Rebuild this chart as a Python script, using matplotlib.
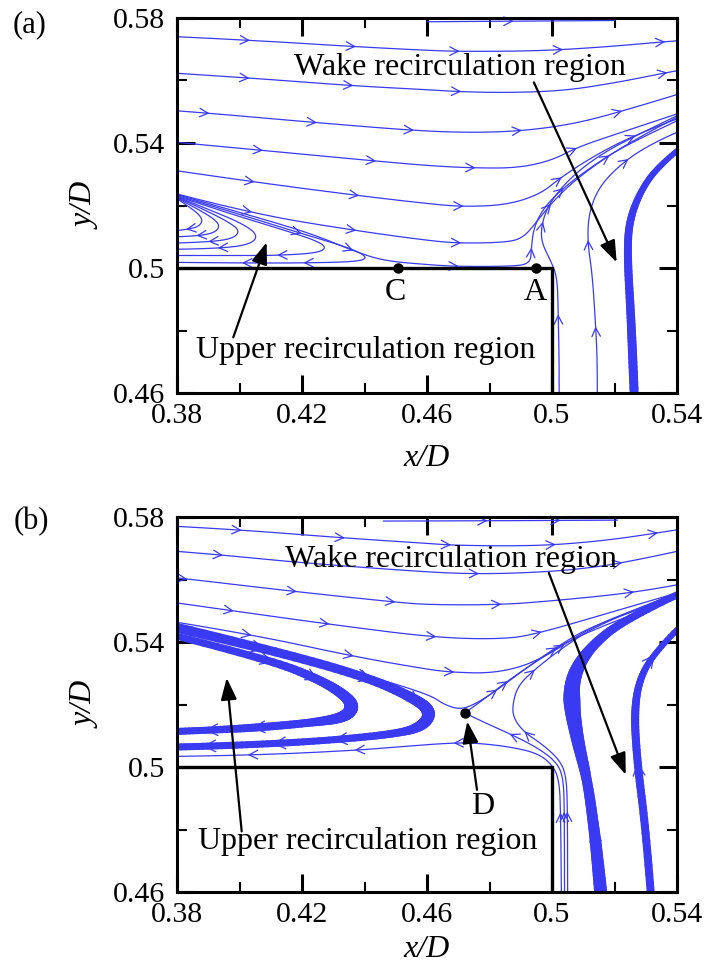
import numpy as np
import matplotlib
matplotlib.use("Agg")
import matplotlib.pyplot as plt
from matplotlib.collections import LineCollection

plt.rcParams["font.family"] = ["Liberation Serif", "DejaVu Serif"]

BLUE = "#3a3af2"

# ---------------- panel (a): streamlines traced as (x/D, y/D) vertices ----------------
# free-stream lines above the body, left to right
a_top1_x = [0.460, 0.490, 0.520]
a_top1_y = [0.5788, 0.5790, 0.5792]
a_top2_x = [0.380, 0.4034, 0.4375, 0.461, 0.4708, 0.491, 0.5038, 0.5188, 0.536, 0.540]
a_top2_y = [0.5740, 0.5729, 0.5708, 0.5696, 0.5693, 0.5694, 0.5699, 0.5709, 0.5724, 0.5727]
a_top3_x = [0.380, 0.4034, 0.4364, 0.461, 0.4708, 0.4857, 0.5038, 0.521, 0.537, 0.540]
a_top3_y = [0.5623, 0.5608, 0.5583, 0.5570, 0.5564, 0.5561, 0.5567, 0.5594, 0.5626, 0.5631]
a_top4_x = [0.380, 0.3895, 0.4236, 0.4567, 0.475, 0.491, 0.507, 0.523, 0.540]
a_top4_y = [0.5503, 0.5496, 0.5466, 0.5439, 0.5433, 0.5439, 0.5461, 0.5503, 0.5555]
a_top5_x = [0.380, 0.4087, 0.4428, 0.461, 0.475, 0.4889, 0.4996, 0.5081, 0.5188, 0.540]
a_top5_y = [0.5402, 0.5375, 0.5343, 0.5327, 0.5320, 0.5320, 0.5343, 0.5386, 0.5423, 0.5493]
a_top6_x = [0.380, 0.4055, 0.4386, 0.461, 0.4718, 0.4857, 0.4964, 0.5028, 0.5145, 0.5273, 0.540]
a_top6_y = [0.5311, 0.5274, 0.5231, 0.5205, 0.5196, 0.5202, 0.5237, 0.5290, 0.5365, 0.5429, 0.5477]
a_top7_x = [0.380, 0.4044, 0.4375, 0.461, 0.4708, 0.4857, 0.491, 0.4953, 0.4996, 0.507, 0.5188, 0.5316, 0.540]
a_top7_y = [0.5237, 0.5173, 0.5119, 0.5087, 0.5079, 0.5082, 0.5098, 0.5151, 0.5205, 0.5279, 0.5365, 0.5439, 0.5482]
# line that reattaches at C, runs along the wall to A and lifts off
a_wall_x = [0.380, 0.4044, 0.4236, 0.4364, 0.446, 0.461, 0.4697, 0.4857, 0.4931, 0.4934, 0.4942, 0.4974, 0.5038, 0.5124, 0.523, 0.540]
a_wall_y = [0.5235, 0.5166, 0.5108, 0.5055, 0.5023, 0.5010, 0.5005, 0.5005, 0.5012, 0.5066, 0.5130, 0.5194, 0.5258, 0.5322, 0.5391, 0.5471]
# lines rising from below, right of the body
a_rise1_x = [0.5023, 0.5023, 0.5020, 0.5017, 0.4996, 0.4964, 0.4969, 0.4996, 0.5060, 0.5150, 0.5260, 0.540]
a_rise1_y = [0.4597, 0.4700, 0.4850, 0.4970, 0.5023, 0.5087, 0.5151, 0.5215, 0.5290, 0.5360, 0.5420, 0.5487]
a_rise2_x = [0.5145, 0.5145, 0.514, 0.5129, 0.5113, 0.5119, 0.5156, 0.524, 0.5337, 0.540]
a_rise2_y = [0.4597, 0.4700, 0.4810, 0.4981, 0.5087, 0.5183, 0.5269, 0.5349, 0.5407, 0.5434]
# packed wake band and its width (px)
a_band_x = [0.5263, 0.5258, 0.5252, 0.5241, 0.5247, 0.5284, 0.5337, 0.540]
a_band_y = [0.4597, 0.4720, 0.4853, 0.5045, 0.5151, 0.5247, 0.5322, 0.5375]
a_band_w = [9, 9, 8.5, 8, 7.5, 6.5, 6, 5.5]
# nested loops of the upper recirculation bubble
a_loop1_x = [0.3800, 0.3840, 0.3872, 0.3882, 0.3868, 0.3830, 0.3800]
a_loop1_y = [0.5222, 0.5195, 0.5170, 0.5150, 0.5132, 0.5123, 0.5120]
a_loop2_x = [0.3800, 0.3860, 0.3915, 0.3938, 0.3920, 0.3860, 0.3800]
a_loop2_y = [0.5224, 0.5192, 0.5160, 0.5135, 0.5112, 0.5102, 0.5100]
a_loop3_x = [0.3800, 0.3880, 0.3960, 0.4002, 0.3980, 0.3900, 0.3800]
a_loop3_y = [0.5226, 0.5190, 0.5150, 0.5120, 0.5094, 0.5083, 0.5080]
a_loop4_x = [0.3800, 0.3900, 0.4010, 0.4060, 0.4035, 0.3930, 0.3800]
a_loop4_y = [0.5228, 0.5188, 0.5142, 0.5105, 0.5075, 0.5062, 0.5060]
a_loop5_x = [0.3800, 0.3950, 0.4130, 0.4240, 0.4280, 0.4250, 0.4120, 0.3950, 0.3800]
a_loop5_y = [0.5230, 0.5180, 0.5125, 0.5090, 0.5066, 0.5048, 0.5040, 0.5040, 0.5040]
a_loop6_x = [0.3800, 0.3980, 0.4200, 0.4350, 0.4412, 0.4380, 0.4200, 0.4000, 0.3800]
a_loop6_y = [0.5232, 0.5178, 0.5110, 0.5065, 0.5035, 0.5020, 0.5016, 0.5016, 0.5018]

# ---------------- panel (b) ----------------
b_top1_x = [0.446, 0.4804, 0.5017, 0.521]
b_top1_y = [0.5787, 0.5788, 0.5789, 0.5790]
b_top2_x = [0.380, 0.4002, 0.4332, 0.461, 0.4676, 0.4857, 0.5017, 0.5188, 0.5337, 0.540]
b_top2_y = [0.5770, 0.5759, 0.5733, 0.5715, 0.5710, 0.5707, 0.5711, 0.5727, 0.5749, 0.5759]
b_top3_x = [0.380, 0.3938, 0.4204, 0.461, 0.4761, 0.491, 0.507, 0.523, 0.540]
b_top3_y = [0.5690, 0.5679, 0.5653, 0.5623, 0.5618, 0.5621, 0.5631, 0.5653, 0.5690]
b_top4_x = [0.380, 0.3831, 0.4172, 0.4503, 0.461, 0.4836, 0.5017, 0.5273, 0.540]
b_top4_y = [0.5605, 0.5602, 0.5562, 0.5527, 0.5519, 0.5519, 0.5533, 0.5559, 0.5583]
b_top5_x = [0.380, 0.397, 0.4301, 0.4633, 0.4857, 0.4964, 0.5145, 0.540]
b_top5_y = [0.5525, 0.5501, 0.5455, 0.5413, 0.5409, 0.5430, 0.5482, 0.5557]
b_top6_x = [0.380, 0.4044, 0.4364, 0.461, 0.4686, 0.4804, 0.491, 0.4996, 0.5038, 0.5166, 0.540]
b_top6_y = [0.5463, 0.5423, 0.5354, 0.5311, 0.5303, 0.5300, 0.5322, 0.5365, 0.5391, 0.5471, 0.5551]
b_top7_x = [0.3801, 0.4098, 0.4418, 0.461, 0.4654, 0.4708, 0.4761, 0.4825, 0.491, 0.5017, 0.5145, 0.540]
b_top7_y = [0.5452, 0.5373, 0.5290, 0.5231, 0.5200, 0.5183, 0.5205, 0.5247, 0.5311, 0.5386, 0.5461, 0.5546]
# separatrix leaving the saddle D
b_out_x = [0.4721, 0.478, 0.486, 0.496, 0.510, 0.540]
b_out_y = [0.5173, 0.5215, 0.5277, 0.5345, 0.5432, 0.5540]
# lines coming up along the rear face
b_back_x = [0.5030, 0.5028, 0.5023, 0.5001, 0.4953, 0.4857, 0.4751, 0.4686, 0.459, 0.4375, 0.4023, 0.3800]
b_back_y = [0.4597, 0.4853, 0.4959, 0.5007, 0.5045, 0.5066, 0.5077, 0.5077, 0.5071, 0.5053, 0.5037, 0.5034]
b_in_x = [0.5040, 0.5040, 0.5036, 0.5012, 0.4953, 0.4868, 0.4782, 0.4721]
b_in_y = [0.4597, 0.4853, 0.4970, 0.5018, 0.5062, 0.5105, 0.5143, 0.5173]
b_turn_x = [0.5050, 0.5050, 0.5046, 0.5025, 0.4970, 0.4910, 0.4878, 0.4873, 0.4889, 0.4943, 0.5039, 0.5166, 0.5400]
b_turn_y = [0.4597, 0.4853, 0.4970, 0.5022, 0.5072, 0.5112, 0.5155, 0.5194, 0.5258, 0.5311, 0.5386, 0.5466, 0.5557]
# packed bands of the upper bubble
b_inner_x = [0.3801, 0.4098, 0.4258, 0.4343, 0.4364, 0.4332, 0.4226, 0.4044, 0.3884, 0.3801]
b_inner_y = [0.5418, 0.5343, 0.5279, 0.5226, 0.5189, 0.5157, 0.5141, 0.5125, 0.5117, 0.5114]
b_inner_w = [7, 8, 9, 11, 14, 11, 8, 8, 7, 7]
b_outer_x = [0.3801, 0.4098, 0.4418, 0.4578, 0.4611, 0.4590, 0.4524, 0.4311, 0.4098, 0.3884, 0.3801]
b_outer_y = [0.5445, 0.5375, 0.5285, 0.5210, 0.5173, 0.5135, 0.5109, 0.5087, 0.5074, 0.5066, 0.5064]
b_outer_w = [10, 9, 9, 11, 13, 11, 8, 7, 7, 7, 7]
# packed bands of the wake
b_wake1_x = [0.5156, 0.5146, 0.5135, 0.5113, 0.5081, 0.5060, 0.5070, 0.5124, 0.5230, 0.5400]
b_wake1_y = [0.4597, 0.4700, 0.4800, 0.4959, 0.5087, 0.5215, 0.5301, 0.5386, 0.5471, 0.5551]
b_wake1_w = [13, 12, 11, 10, 13, 17, 14, 10, 8, 7]
b_wake2_x = [0.5316, 0.5300, 0.5273, 0.5263, 0.5279, 0.5327, 0.5400]
b_wake2_y = [0.4597, 0.4800, 0.5013, 0.5173, 0.5279, 0.5365, 0.5439]
b_wake2_w = [8, 8, 8, 8, 7, 6, 6]

x_major = [0.38, 0.42, 0.46, 0.50, 0.54]
x_major_labels = ["0.38", "0.42", "0.46", "0.5", "0.54"]
x_minor = [0.40, 0.44, 0.48, 0.52]
y_major = [0.46, 0.50, 0.54, 0.58]
y_major_labels = ["0.46", "0.5", "0.54", "0.58"]
y_minor = [0.48, 0.52, 0.56]

TICK_FS = 21.5
TEXT_FS = 23


def smooth(xs, ys, n=14):
    # quadratic curve through the midpoints, anchored at both ends
    p = np.column_stack([xs, ys]).astype(float)
    if len(p) < 3:
        return p[:, 0], p[:, 1]
    out = [p[0]]
    t = np.linspace(0, 1, n)[1:, None]
    last = len(p) - 2
    for i in range(1, len(p) - 1):
        a = p[0] if i == 1 else (p[i - 1] + p[i]) / 2
        b = p[-1] if i == last else (p[i] + p[i + 1]) / 2
        c = p[i]
        out.extend((1 - t) ** 2 * a + 2 * (1 - t) * t * c + t ** 2 * b)
    out = np.array(out)
    return out[:, 0], out[:, 1]


def vertex_index(x, y, xs, ys):
    return [int(np.argmin((x - vx) ** 2 + (y - vy) ** 2)) for vx, vy in zip(xs, ys)]


def chevrons(ax, x, y, idx, scale=11, color=BLUE):
    for j in idx:
        j = min(max(j, 1), len(x) - 2)
        dx, dy = x[j + 1] - x[j - 1], y[j + 1] - y[j - 1]
        norm = np.hypot(dx, dy)
        dx, dy = dx / norm, dy / norm
        ax.annotate("", xy=(x[j], y[j]), xytext=(x[j] - dx * 1e-3, y[j] - dy * 1e-3),
                    arrowprops=dict(arrowstyle="->,head_length=0.55,head_width=0.28",
                                    color=color, lw=0.9, mutation_scale=scale,
                                    shrinkA=0, shrinkB=0), zorder=3)


def stream(ax, xs, ys, marks=(), lw=0.9):
    x, y = smooth(xs, ys)
    ax.plot(x, y, color=BLUE, lw=lw, zorder=2, solid_capstyle="round")
    if marks:
        vi = vertex_index(x, y, xs, ys)
        chevrons(ax, x, y, [vi[m] for m in marks])


def band(ax, xs, ys, widths, marks=()):
    x, y = smooth(xs, ys)
    vi = vertex_index(x, y, xs, ys)
    w = np.interp(np.arange(len(x)), vi, widths) * 0.72
    pts = np.column_stack([x, y]).reshape(-1, 1, 2)
    segs = np.concatenate([pts[:-1], pts[1:]], axis=1)
    lc = LineCollection(segs, linewidths=(w[:-1] + w[1:]) / 2, colors=BLUE,
                        capstyle="round", joinstyle="round", zorder=2)
    ax.add_collection(lc)
    if marks:
        chevrons(ax, x, y, [vi[m] for m in marks], scale=15)


def frame(ax, xpad):
    ax.set_xlim(0.38, 0.54)
    ax.set_ylim(0.46, 0.58)
    ax.set_xticks(x_major)
    ax.set_xticklabels(x_major_labels)
    ax.set_xticks(x_minor, minor=True)
    ax.set_yticks(y_major)
    ax.set_yticklabels(y_major_labels)
    ax.set_yticks(y_minor, minor=True)
    ax.tick_params(which="both", direction="in", top=True, right=True,
                   labelsize=TICK_FS, color="k")
    ax.tick_params(axis="y", which="both", pad=8.5)
    ax.tick_params(axis="x", which="both", pad=7)
    ax.tick_params(which="major", length=13, width=2.2)
    ax.tick_params(which="minor", length=7.5, width=1.5)
    for s in ax.spines.values():
        s.set_linewidth(2.2)
        s.set_zorder(6)
    ax.set_xlabel("x/D", fontsize=TEXT_FS, style="italic", labelpad=xpad)
    ax.set_ylabel("y/D", fontsize=TEXT_FS, style="italic", labelpad=9)
    # the body: top face and rear face of the cylinder
    ax.plot([0.38, 0.50, 0.50], [0.50, 0.50, 0.46], color="k", lw=2.4,
            zorder=4, solid_joinstyle="miter")


def pointer(ax, tail, tip):
    ax.annotate("", xy=tip, xytext=tail,
                arrowprops=dict(arrowstyle="-|>,head_length=0.6,head_width=0.22",
                                color="k", lw=1.6, mutation_scale=22,
                                shrinkA=0, shrinkB=0), zorder=7)


fig = plt.figure(figsize=(7.04, 9.65), dpi=100)
ax_a = fig.add_axes([177 / 704, 1 - 393 / 965, 500 / 704, 375 / 965])
ax_b = fig.add_axes([177 / 704, 1 - 892 / 965, 500 / 704, 375 / 965])

# ---- panel (a) ----
stream(ax_a, a_top1_x, a_top1_y, [1])
stream(ax_a, a_top2_x, a_top2_y, [1, 2, 4, 6, 8])
stream(ax_a, a_top3_x, a_top3_y, [1, 2, 4, 8])
stream(ax_a, a_top4_x, a_top4_y, [1, 2, 3, 5, 7])
stream(ax_a, a_top5_x, a_top5_y, [1, 2, 4, 7])
stream(ax_a, a_top6_x, a_top6_y, [1, 2, 4, 7, 9])
stream(ax_a, a_top7_x, a_top7_y, [1, 2, 4, 8, 10])
stream(ax_a, a_wall_x, a_wall_y, [3, 6, 9, 12])
stream(ax_a, a_rise1_x, a_rise1_y, [2, 6])
stream(ax_a, a_rise2_x, a_rise2_y, [2, 4, 7])
band(ax_a, a_band_x, a_band_y, a_band_w)
for lx, ly, m in [(a_loop1_x, a_loop1_y, [5]), (a_loop2_x, a_loop2_y, [5]),
                  (a_loop3_x, a_loop3_y, [5]), (a_loop4_x, a_loop4_y, [5]),
                  (a_loop5_x, a_loop5_y, [6]), (a_loop6_x, a_loop6_y, [2, 6, 7])]:
    stream(ax_a, lx, ly, m)
frame(ax_a, 11)
ax_a.plot([0.4506, 0.4950], [0.5, 0.5], "o", color="k", ms=6.5, zorder=8)
ax_a.text(0.4500, 0.4922, "C", fontsize=TEXT_FS, ha="center", va="center", zorder=8)
ax_a.text(0.4946, 0.4922, "A", fontsize=TEXT_FS, ha="center", va="center", zorder=8)
ax_a.text(0.4704, 0.5642, "Wake recirculation region", fontsize=TEXT_FS,
          ha="center", va="center", zorder=8)
pointer(ax_a, (0.4942, 0.5594), (0.5207, 0.5018))
ax_a.text(0.4405, 0.4735, "Upper recirculation region", fontsize=TEXT_FS,
          ha="center", va="center", zorder=8)
pointer(ax_a, (0.3980, 0.4778), (0.4087, 0.5082))

# ---- panel (b) ----
stream(ax_b, b_top1_x, b_top1_y, [1, 2])
stream(ax_b, b_top2_x, b_top2_y, [1, 2, 4, 6, 8])
stream(ax_b, b_top3_x, b_top3_y, [1, 4, 7])
stream(ax_b, b_top4_x, b_top4_y, [1, 2, 3, 5, 7])
stream(ax_b, b_top5_x, b_top5_y, [1, 2, 3, 5])
stream(ax_b, b_top6_x, b_top6_y, [1, 2, 4, 8])
stream(ax_b, b_top7_x, b_top7_y, [2, 7, 9])
stream(ax_b, b_out_x, b_out_y, [2])
stream(ax_b, b_back_x, b_back_y, [1, 7, 9, 10])
stream(ax_b, b_in_x, b_in_y, [1, 5])
stream(ax_b, b_turn_x, b_turn_y, [1, 5, 9])
band(ax_b, b_inner_x, b_inner_y, b_inner_w, [1, 2, 7, 8])
band(ax_b, b_outer_x, b_outer_y, b_outer_w, [1, 2, 3, 7, 8, 9])
band(ax_b, b_wake1_x, b_wake1_y, b_wake1_w, [2, 7])
band(ax_b, b_wake2_x, b_wake2_y, b_wake2_w, [2, 5])
frame(ax_b, 5)
ax_b.plot([0.4721], [0.5173], "o", color="k", ms=6.5, zorder=8)
ax_b.text(0.4777, 0.4874, "D", fontsize=TEXT_FS, ha="center", va="center", zorder=8)
pointer(ax_b, (0.4760, 0.4927), (0.4729, 0.5146))
ax_b.text(0.4677, 0.5663, "Wake recirculation region", fontsize=TEXT_FS,
          ha="center", va="center", zorder=8)
pointer(ax_b, (0.4990, 0.5621), (0.5236, 0.4975))
ax_b.text(0.4411, 0.4762, "Upper recirculation region", fontsize=TEXT_FS,
          ha="center", va="center", zorder=8)
pointer(ax_b, (0.4007, 0.4794), (0.3959, 0.5285))

fig.text(30 / 704, 1 - 25 / 965, "(a)", fontsize=22, ha="center", va="center")
fig.text(31 / 704, 1 - 522 / 965, "(b)", fontsize=22, ha="center", va="center")

fig.savefig("out.png", dpi=100)
